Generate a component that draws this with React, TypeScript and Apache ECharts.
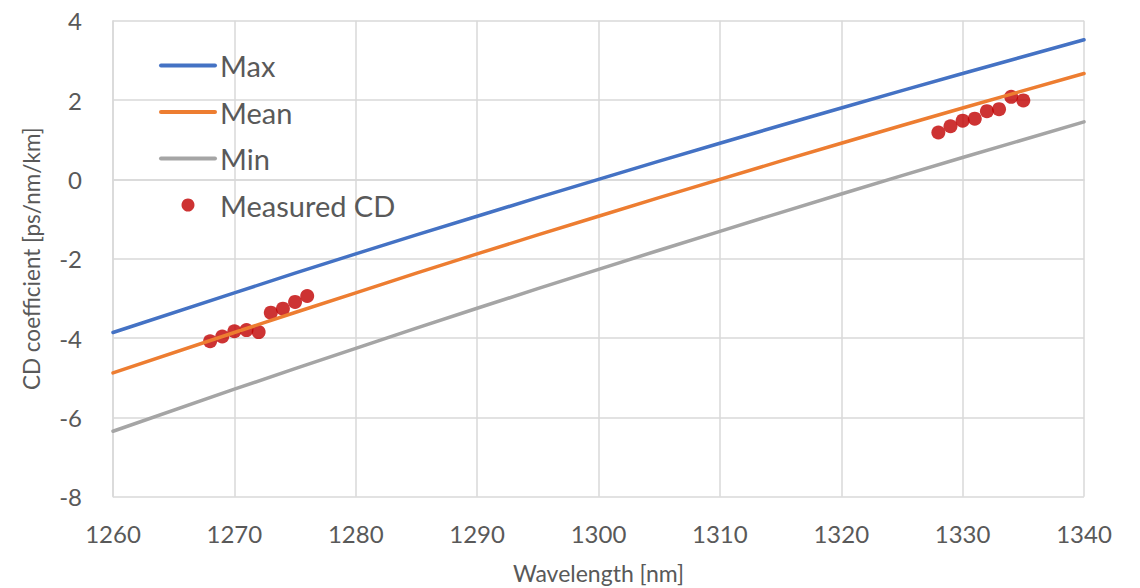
import React, { useEffect, useRef } from "react";
import * as echarts from "echarts";

const wavelengths = [1260, 1270, 1280, 1290, 1300, 1310, 1320, 1330, 1340];
const maxValues = [-3.86, -2.86, -1.88, -0.93, 0, 0.91, 1.8, 2.67, 3.52];
const meanValues = [-4.88, -3.86, -2.86, -1.88, -0.93, 0, 0.91, 1.8, 2.67];
const minValues = [-6.35, -5.29, -4.26, -3.25, -2.27, -1.31, -0.37, 0.55, 1.45];

const measuredWavelengths = [
  1268, 1269, 1270, 1271, 1272, 1273, 1274, 1275, 1276,
  1328, 1329, 1330, 1331, 1332, 1333, 1334, 1335,
];
const measuredCD = [
  -4.08, -3.96, -3.83, -3.8, -3.85, -3.36, -3.26, -3.09, -2.94,
  1.18, 1.34, 1.48, 1.53, 1.72, 1.77, 2.08, 1.99,
];

const FONT = "Lato, 'Open Sans', sans-serif";
const TEXT = "#595959";
const GRID = "#d9d9d9";

export default function App() {
  const ref = useRef<HTMLDivElement>(null);
  useEffect(() => {
    if (!ref.current) return;
    const chart = echarts.init(ref.current, undefined, { renderer: "svg" });
    const pairs = (xs: number[], ys: number[]) => xs.map((x, i) => [x, ys[i]]);
    chart.setOption({
      animation: false,
      textStyle: { fontFamily: FONT, color: TEXT },
      grid: {
        left: 113,
        right: 56,
        top: 20.7,
        bottom: 91.3,
        containLabel: false,
        outerBoundsMode: "none",
      },
      legend: {
        orient: "vertical",
        left: 159,
        top: 51,
        padding: 0,
        itemWidth: 54,
        itemHeight: 13,
        itemGap: 17.5,
        lineStyle: { width: 4, cap: "round" },
        textStyle: { fontFamily: FONT, fontSize: 29, color: TEXT },
        data: [
          { name: "Max", itemStyle: { opacity: 0 } },
          { name: "Mean", itemStyle: { opacity: 0 } },
          { name: "Min", itemStyle: { opacity: 0 } },
          { name: "Measured CD" },
        ],
      },
      xAxis: {
        type: "value",
        min: 1260,
        max: 1340,
        interval: 10,
        name: "Wavelength [nm]",
        nameLocation: "middle",
        nameGap: 64,
        nameTextStyle: { fontFamily: FONT, fontSize: 23, lineHeight: 24, color: TEXT },
        axisLine: { show: true, lineStyle: { color: GRID, width: 1.5 } },
        axisTick: { show: false },
        axisLabel: {
          fontFamily: FONT,
          fontSize: 24,
          color: TEXT,
          margin: 25,
          formatter: (v: number) => String(v),
        },
        splitLine: { show: true, lineStyle: { color: GRID, width: 1.5 } },
      },
      yAxis: {
        type: "value",
        min: -8,
        max: 4,
        interval: 2,
        name: "CD coefficient [ps/nm/km]",
        nameLocation: "middle",
        nameGap: 70,
        nameTextStyle: { fontFamily: FONT, fontSize: 22.5, color: TEXT },
        axisLine: { show: true, lineStyle: { color: GRID, width: 1.5 } },
        axisTick: { show: false },
        axisLabel: { fontFamily: FONT, fontSize: 24, color: TEXT, margin: 31 },
        splitLine: { show: true, lineStyle: { color: GRID, width: 1.5 } },
      },
      series: [
        {
          name: "Max",
          type: "line",
          data: pairs(wavelengths, maxValues),
          symbol: "none",
          smooth: true,
          lineStyle: { color: "#4472C4", width: 3.5, cap: "round" },
          itemStyle: { color: "#4472C4" },
        },
        {
          name: "Mean",
          type: "line",
          data: pairs(wavelengths, meanValues),
          symbol: "none",
          smooth: true,
          lineStyle: { color: "#ED7D31", width: 3.5, cap: "round" },
          itemStyle: { color: "#ED7D31" },
        },
        {
          name: "Min",
          type: "line",
          data: pairs(wavelengths, minValues),
          symbol: "none",
          smooth: true,
          lineStyle: { color: "#A5A5A5", width: 3.5, cap: "round" },
          itemStyle: { color: "#A5A5A5" },
        },
        {
          name: "Measured CD",
          type: "scatter",
          data: pairs(measuredWavelengths, measuredCD),
          symbol: "circle",
          symbolSize: 14,
          itemStyle: { color: "#C00000" },
        },
      ],
    });
    return () => chart.dispose();
  }, []);
  return <div ref={ref} style={{ width: 1140, height: 588, position: "absolute", left: 0, top: 0 }} />;
}
